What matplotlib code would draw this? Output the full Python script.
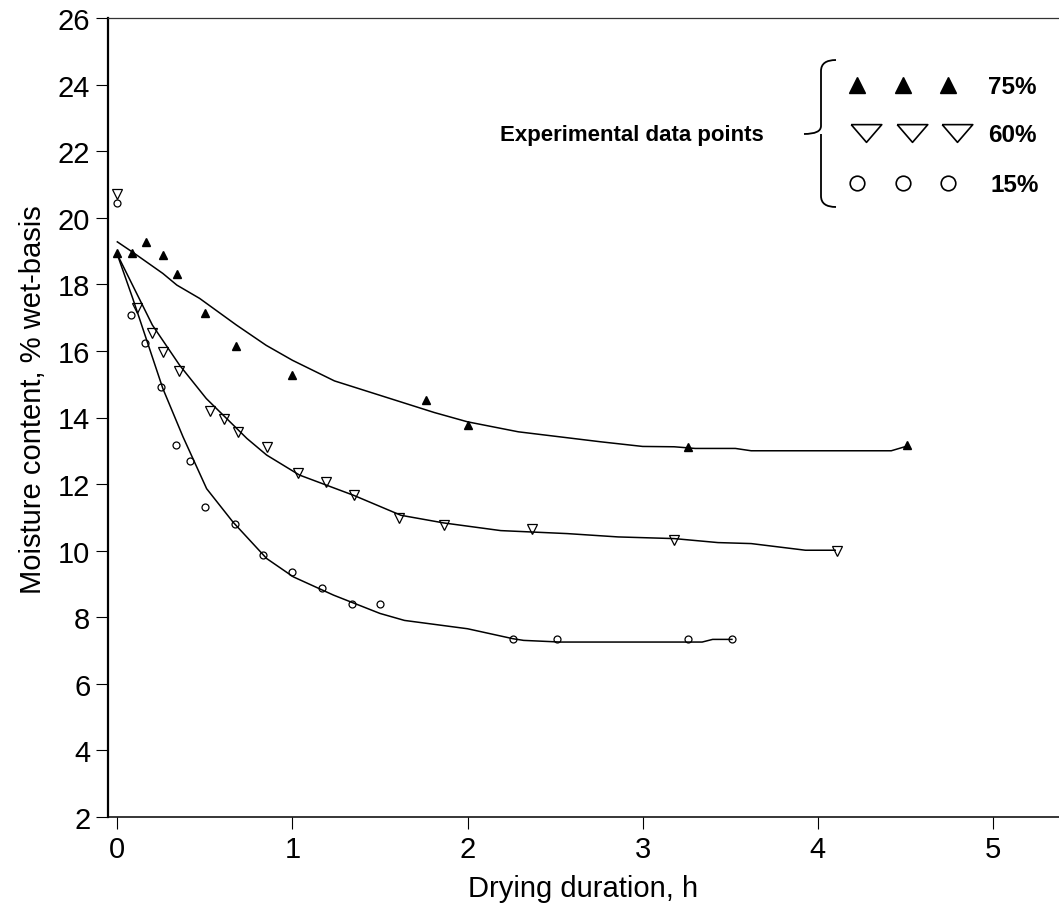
import numpy as np
import matplotlib.pyplot as plt
from matplotlib.path import Path

plt.rcParams['font.family'] = ['Liberation Sans', 'DejaVu Sans']

# experimental points, 75% RH (filled up triangles)
m75_x = [0, 0.085, 0.165, 0.26, 0.34, 0.50, 0.68, 1.0, 1.76, 2.0, 3.26, 4.51]
m75_y = [18.95, 18.95, 19.27, 18.88, 18.32, 17.14, 16.16, 15.28, 14.52, 13.77, 13.12, 13.16]

# 60% RH (open down triangles)
m60_x = [0, 0.11, 0.20, 0.26, 0.35, 0.53, 0.61, 0.69, 0.853, 1.03, 1.19, 1.35,
         1.61, 1.865, 2.37, 3.18, 4.11]
m60_y = [20.72, 17.3, 16.53, 15.98, 15.39, 14.2, 13.95, 13.57, 13.12, 12.32, 12.07,
         11.66, 10.98, 10.76, 10.66, 10.31, 9.98]

# 15% RH (open circles)
m15_x = [0, 0.078, 0.16, 0.25, 0.336, 0.417, 0.50, 0.67, 0.833, 1.0, 1.17, 1.34,
         1.50, 2.26, 2.51, 3.26, 3.51]
m15_y = [20.44, 17.08, 16.25, 14.92, 13.17, 12.70, 11.31, 10.81, 9.88, 9.36, 8.88,
         8.38, 8.38, 7.35, 7.35, 7.35, 7.35]

# fitted curves
c75_x = [0, 0.09, 0.26, 0.34, 0.47, 0.68, 0.85, 1.0, 1.24, 1.54, 1.81, 2.0, 2.29,
         2.76, 3.0, 3.18, 3.3, 3.53, 3.62, 4.2, 4.42, 4.51]
c75_y = [19.28, 18.96, 18.33, 17.98, 17.58, 16.78, 16.17, 15.72, 15.1, 14.6, 14.15,
         13.87, 13.57, 13.27, 13.13, 13.12, 13.07, 13.07, 13.0, 13.0, 13.0, 13.14]

c60_x = [0, 0.2, 0.356, 0.508, 0.74, 0.853, 1.04, 1.35, 1.62, 1.865, 2.19, 2.57,
         2.86, 3.18, 3.43, 3.62, 3.93, 4.10]
c60_y = [18.9, 16.78, 15.57, 14.57, 13.37, 12.87, 12.27, 11.66, 11.06, 10.83, 10.6,
         10.51, 10.41, 10.36, 10.24, 10.21, 10.01, 10.01]

c15_x = [0, 0.088, 0.26, 0.375, 0.51, 0.66, 0.853, 1.005, 1.235, 1.50, 1.64, 2.0,
         2.26, 2.32, 2.53, 3.34, 3.40, 3.51]
c15_y = [18.9, 17.58, 14.87, 13.42, 11.86, 10.86, 9.76, 9.21, 8.66, 8.11, 7.9, 7.65,
         7.35, 7.30, 7.25, 7.25, 7.33, 7.33]

legend_labels = ['75%', '60%', '15%']

W, H = 1059, 920
fig = plt.figure(figsize=(W / 100, H / 100), dpi=100)
ax = fig.add_axes([107.7 / W, 1 - 817.7 / H, (W - 107.7) / W, (817.7 - 19.3) / H])

lw = 1.1
ax.plot(c75_x, c75_y, color='black', lw=lw)
ax.plot(c60_x, c60_y, color='black', lw=lw)
ax.plot(c15_x, c15_y, color='black', lw=lw)

ax.plot(m75_x, m75_y, ls='none', marker='^', ms=6, color='black', clip_on=False)
ax.plot(m60_x, m60_y, ls='none', marker='v', ms=7, mfc='none', mec='black',
        mew=0.9, clip_on=False)
ax.plot(m15_x, m15_y, ls='none', marker='o', ms=5, mfc='none', mec='black',
        mew=0.9, clip_on=False)

ax.set_xlim(-0.055, 5.378)
ax.set_ylim(2, 26)
ax.set_xticks(range(0, 6))
ax.set_yticks(range(2, 27, 2))
ax.tick_params(direction='out', length=8.5, width=0.8, labelsize=21, pad=4)
ax.tick_params(axis='x', pad=5)

ax.spines['right'].set_visible(False)
ax.spines['left'].set_linewidth(1.6)
ax.spines['bottom'].set_linewidth(1.1)
ax.spines['top'].set_linewidth(0.9)
ax.spines['top'].set_color('#333333')

ax.set_xlabel('Drying duration, h', fontsize=21)
ax.set_ylabel('Moisture content, % wet-basis', fontsize=21)
ax.xaxis.set_label_coords(0.5, -0.072)
ax.yaxis.set_label_coords(-0.064, 0.524)


# legend block drawn in figure pixels
def fpx(x, y):
    return x / W, 1 - y / H


tf = fig.transFigure
tx, ty = fpx(632, 135)
fig.text(tx, ty, 'Experimental data points', fontsize=16, fontweight='bold',
         ha='center', va='center')

verts = [fpx(836, 61), fpx(821, 61), fpx(821, 72), fpx(821, 127), fpx(821, 135),
         fpx(804, 135), fpx(821, 135), fpx(821, 143), fpx(821, 197), fpx(821, 208),
         fpx(836, 208)]
codes = [Path.MOVETO, Path.CURVE3, Path.CURVE3, Path.LINETO, Path.CURVE3, Path.CURVE3,
         Path.MOVETO, Path.CURVE3, Path.LINETO, Path.CURVE3, Path.CURVE3]
brace = plt.matplotlib.patches.PathPatch(Path(verts, codes), fc='none', ec='black',
                                         lw=1.3, transform=tf)
fig.add_artist(brace)

wide_v = [(-1, 0.58), (1, 0.58), (0, -0.58), (-1, 0.58)]
cols = [857, 903, 948]
rows = [86, 134, 184]
styles = [dict(marker='^', ms=12, color='black'),
          dict(marker=wide_v, ms=22, mfc='none', mec='black', mew=1.2),
          dict(marker='o', ms=10.5, mfc='none', mec='black', mew=1.2)]
shift = [0, 9, 0]
for r, st, lab, s in zip(rows, styles, legend_labels, shift):
    for c in cols:
        px, py = fpx(c + s, r)
        fig.add_artist(plt.Line2D([px], [py], transform=tf, ls='none', **st))
    lx, ly = fpx(988 if lab != '15%' else 990, r + 1)
    fig.text(lx, ly, lab, fontsize=17.5, fontweight='bold', ha='left', va='center')

fig.savefig('out.png', dpi=100)
